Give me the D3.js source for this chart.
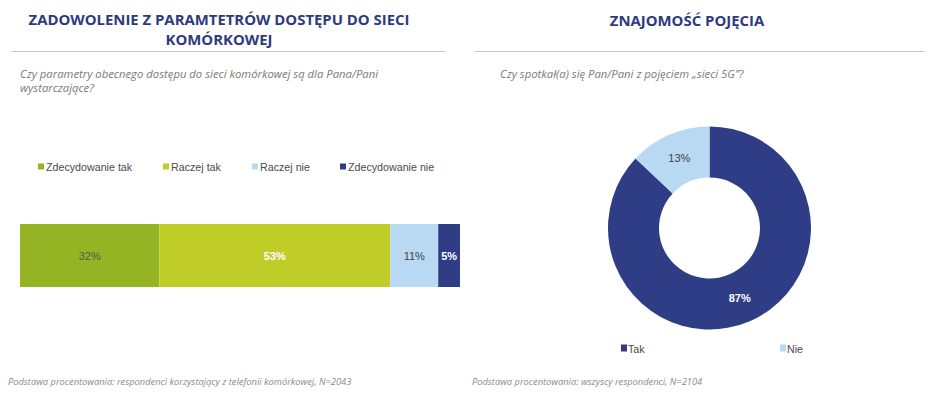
<!DOCTYPE html>
<html>
<head>
<meta charset="utf-8">
<script src="https://cdn.jsdelivr.net/npm/d3@7"></script>
<style>
  body { margin:0; background:#fff; }
  svg { display:block; }
  .title { font-family:"Open Sans", sans-serif; font-weight:700; font-size:14.9px; fill:#2e3a7e; }
  .sub { font-family:"Open Sans", sans-serif; font-style:italic; font-size:11.3px; fill:#7a7a7a; }
  .foot { font-family:"Open Sans", sans-serif; font-style:italic; font-size:9.3px; fill:#8a8a8a; }
  .leg { font-family:"Liberation Sans", Arial, sans-serif; font-size:10.7px; fill:#4a4a4a; }
  .val { font-family:"Liberation Sans", Arial, sans-serif; font-size:11px; }
</style>
</head>
<body>
<div id="chart"></div>
<script>
// dane - wykres słupkowy
const barCategories = ['Zdecydowanie tak', 'Raczej tak', 'Raczej nie', 'Zdecydowanie nie']
const barValues = [32, 53, 11, 5]
const barColors = ['#95b423', '#c0cc27', '#b9d8f2', '#2e3d86']
const barLabelColors = ['#555', '#fff', '#444', '#fff']
const barLabelWeights = ['normal', 'bold', 'normal', 'bold']

// dane - donut
const pieCategories = ['Tak', 'Nie']
const pieValues = [87, 13]
const pieColors = ['#2e3d86', '#b9d8f2']
const pieLabelColors = ['#fff', '#444']

const W = 934, H = 395
const svg = d3.select('#chart').append('svg').attr('width', W).attr('height', H)

/* ===================== nagłówki ===================== */
svg.append('text').attr('class', 'title').attr('text-anchor', 'middle')
   .attr('x', 219).attr('y', 24.5).text('ZADOWOLENIE Z PARAMTETRÓW DOSTĘPU DO SIECI')
svg.append('text').attr('class', 'title').attr('text-anchor', 'middle')
   .attr('x', 219).attr('y', 44.5).text('KOMÓRKOWEJ')
svg.append('text').attr('class', 'title').attr('text-anchor', 'middle')
   .attr('x', 687).attr('y', 25.5).text('ZNAJOMOŚĆ POJĘCIA')

svg.append('line').attr('x1', 12).attr('x2', 445).attr('y1', 51.5).attr('y2', 51.5).attr('stroke', '#c4c4c4')
svg.append('line').attr('x1', 475).attr('x2', 924).attr('y1', 51.5).attr('y2', 51.5).attr('stroke', '#c4c4c4')

const s1 = svg.append('text').attr('class', 'sub')
s1.append('tspan').attr('x', 20).attr('y', 78).text('Czy parametry obecnego dostępu do sieci komórkowej są dla Pana/Pani')
s1.append('tspan').attr('x', 20).attr('y', 92).text('wystarczające?')
svg.append('text').attr('class', 'sub').attr('x', 500).attr('y', 78)
   .text('Czy spotkał(a) się Pan/Pani z pojęciem „sieci 5G”?')

svg.append('text').attr('class', 'foot').attr('x', 8).attr('y', 385)
   .text('Podstawa procentowania: respondenci korzystający z telefonii komórkowej, N=2043')
svg.append('text').attr('class', 'foot').attr('x', 472).attr('y', 385)
   .text('Podstawa procentowania: wszyscy respondenci, N=2104')

/* ===================== słupek ===================== */
const x = d3.scaleLinear().domain([0, d3.sum(barValues)]).range([20, 460])
const cum = barValues.map((v, i) => d3.sum(barValues.slice(0, i)))
const barG = svg.append('g')
barG.selectAll('rect').data(barValues).join('rect')
    .attr('x', (d, i) => x(cum[i]))
    .attr('width', (d, i) => x(cum[i] + d) - x(cum[i]))
    .attr('y', 224).attr('height', 63)
    .attr('fill', (d, i) => barColors[i])
barG.selectAll('text').data(barValues).join('text')
    .attr('class', 'val')
    .attr('x', (d, i) => (x(cum[i]) + x(cum[i] + d)) / 2)
    .attr('y', 259.5)
    .attr('text-anchor', 'middle')
    .attr('fill', (d, i) => barLabelColors[i])
    .attr('font-weight', (d, i) => barLabelWeights[i])
    .text(d => d + '%')

const legX = [38, 163, 252, 340]
const leg = svg.append('g').selectAll('g').data(barCategories).join('g')
    .attr('transform', (d, i) => `translate(${legX[i]},167)`)
leg.append('rect').attr('x', 0).attr('y', -3.5).attr('width', 6).attr('height', 6)
   .attr('fill', (d, i) => barColors[i])
leg.append('text').attr('class', 'leg').attr('x', 8).attr('y', 4).text(d => d)

/* ===================== donut ===================== */
const cx = 709.5, cy = 228, R = 101.5, r = 50.5
const pie = d3.pie().sort(null)
const arc = d3.arc().innerRadius(r).outerRadius(R)
const labelArc = d3.arc().innerRadius((R + r) / 2).outerRadius((R + r) / 2)
const arcs = pie(pieValues)
const pieG = svg.append('g').attr('transform', `translate(${cx},${cy})`)
pieG.selectAll('path').data(arcs).join('path')
    .attr('d', arc).attr('fill', (d, i) => pieColors[i])
pieG.selectAll('text').data(arcs).join('text')
    .attr('class', 'val')
    .attr('transform', d => `translate(${labelArc.centroid(d)})`)
    .attr('dy', '0.35em').attr('text-anchor', 'middle')
    .attr('fill', (d, i) => pieLabelColors[i])
    .attr('font-weight', (d, i) => i === 0 ? 'bold' : 'normal')
    .text(d => d.data + '%')

const pLegX = [621, 780]
const pLeg = svg.append('g').selectAll('g').data(pieCategories).join('g')
    .attr('transform', (d, i) => `translate(${pLegX[i]},348)`)
pLeg.append('rect').attr('x', 0).attr('y', -3.5).attr('width', 6).attr('height', 7)
    .attr('fill', (d, i) => pieColors[i])
pLeg.append('text').attr('class', 'leg').attr('x', 7).attr('y', 4.5).attr('font-size', '12px').text(d => d)
</script>
</body>
</html>
